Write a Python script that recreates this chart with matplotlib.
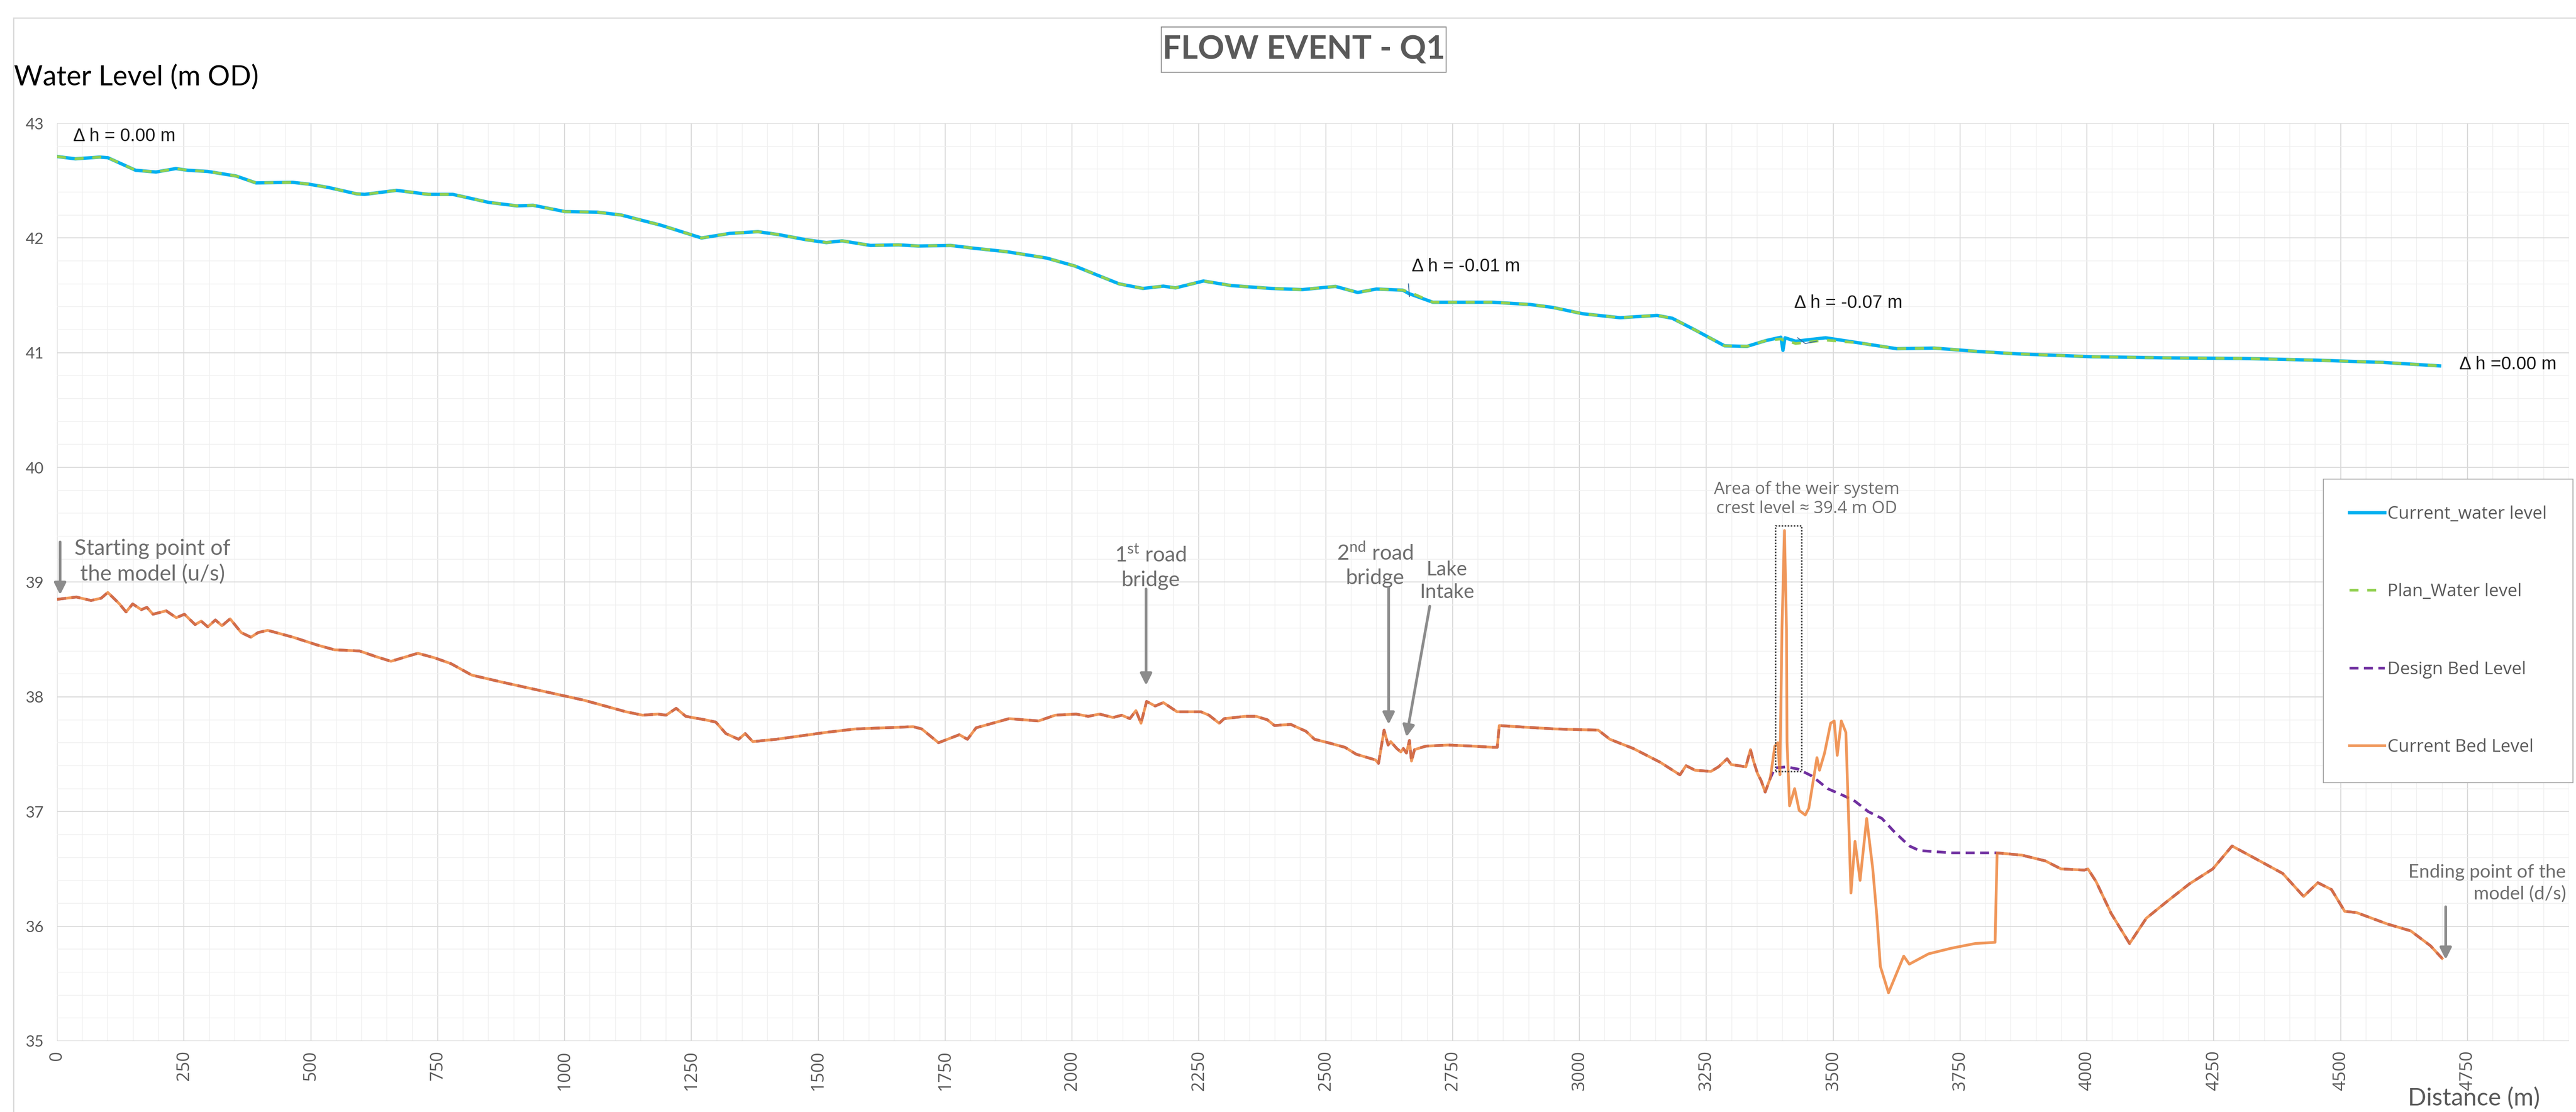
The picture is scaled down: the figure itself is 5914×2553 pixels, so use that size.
import matplotlib.pyplot as plt
from matplotlib.patches import Rectangle
from matplotlib.ticker import MultipleLocator

water_x = [0, 36, 84, 100, 155, 195, 234, 258, 297, 353,
           392, 464, 495, 535, 590, 606, 669, 732, 780, 851,
           906, 938, 1001, 1065, 1112, 1191, 1270, 1326, 1381, 1421,
           1476, 1516, 1547, 1603, 1658, 1697, 1761, 1808, 1872, 1950,
           2006, 2045, 2093, 2140, 2180, 2204, 2259, 2314, 2393, 2454,
           2519, 2563, 2600, 2652, 2664, 2711, 2755, 2829, 2903, 2947,
           3006, 3080, 3153, 3183, 3227, 3286, 3330, 3367, 3397, 3401,
           3405, 3426, 3485, 3552, 3625, 3699, 3788, 3862, 4009, 4156,
           4304, 4451, 4584, 4695]
current_wl = [42.71, 42.69, 42.705, 42.70, 42.59, 42.575, 42.605, 42.59, 42.58, 42.54,
              42.48, 42.485, 42.47, 42.44, 42.385, 42.38, 42.415, 42.38, 42.38, 42.31,
              42.28, 42.285, 42.23, 42.225, 42.20, 42.11, 42.00, 42.04, 42.055, 42.03,
              41.985, 41.96, 41.975, 41.935, 41.94, 41.93, 41.935, 41.91, 41.88, 41.825,
              41.755, 41.685, 41.60, 41.56, 41.58, 41.565, 41.625, 41.585, 41.56, 41.55,
              41.578, 41.525, 41.555, 41.545, 41.515, 41.44, 41.44, 41.44, 41.42, 41.395,
              41.34, 41.305, 41.325, 41.30, 41.20, 41.06, 41.055, 41.105, 41.135, 41.02,
              41.13, 41.10, 41.13, 41.085, 41.035, 41.04, 41.01, 40.99, 40.965, 40.955,
              40.95, 40.935, 40.915, 40.885]
plan_wl = [42.71, 42.69, 42.705, 42.70, 42.59, 42.575, 42.605, 42.59, 42.58, 42.54,
           42.48, 42.485, 42.47, 42.44, 42.385, 42.38, 42.415, 42.38, 42.38, 42.31,
           42.28, 42.285, 42.23, 42.225, 42.20, 42.11, 42.00, 42.04, 42.055, 42.03,
           41.985, 41.96, 41.975, 41.935, 41.94, 41.93, 41.935, 41.91, 41.88, 41.825,
           41.755, 41.685, 41.60, 41.56, 41.58, 41.565, 41.625, 41.585, 41.56, 41.55,
           41.578, 41.525, 41.555, 41.545, 41.53, 41.44, 41.44, 41.44, 41.42, 41.395,
           41.34, 41.305, 41.325, 41.30, 41.20, 41.06, 41.055, 41.105, 41.12, 41.11,
           41.11, 41.08, 41.11, 41.085, 41.035, 41.04, 41.01, 40.99, 40.965, 40.955,
           40.95, 40.935, 40.915, 40.885]

bed_x = [0, 38, 67, 87, 100, 123, 136, 149, 166, 177,
         189, 215, 235, 251, 272, 284, 297, 312, 325, 341,
         363, 382, 396, 415, 465, 514, 547, 596, 629, 658,
         711, 744, 776, 817, 875, 957, 1039, 1121, 1154, 1184,
         1200, 1220, 1239, 1277, 1298, 1318, 1343, 1356, 1371, 1417,
         1482, 1515, 1573, 1687, 1704, 1737, 1778, 1794, 1811, 1876,
         1934, 1967, 2008, 2032, 2054, 2081, 2098, 2114, 2126, 2136,
         2147, 2164, 2180, 2207, 2254, 2270, 2290, 2300, 2341, 2363,
         2385, 2399, 2431, 2461, 2478, 2505, 2538, 2560, 2598, 2604,
         2615, 2623, 2628, 2640, 2648, 2653, 2659, 2665, 2669, 2675,
         2697, 2741, 2792, 2830, 2838, 2842, 2876, 2953, 3037, 3060,
         3106, 3159, 3198, 3210, 3228, 3259, 3274, 3291, 3299, 3328,
         3337, 3343, 3351, 3358, 3366, 3376, 3385, 3391, 3395, 3399,
         3404, 3408, 3409, 3414, 3424, 3433, 3445, 3452, 3460, 3468,
         3473, 3483, 3495, 3502, 3508, 3516, 3525, 3529, 3535, 3543,
         3553, 3566, 3578, 3586, 3593, 3609, 3624, 3639, 3650, 3688,
         3734, 3780, 3819, 3823, 3872, 3918, 3949, 3995, 4002, 4018,
         4048, 4084, 4117, 4156, 4202, 4248, 4286, 4332, 4386, 4427,
         4455, 4482, 4508, 4531, 4592, 4638, 4677, 4700]
bed_level = [38.85, 38.87, 38.84, 38.86, 38.91, 38.81, 38.74, 38.81, 38.76, 38.78,
             38.72, 38.75, 38.69, 38.72, 38.63, 38.66, 38.61, 38.67, 38.62, 38.68,
             38.56, 38.52, 38.56, 38.58, 38.52, 38.45, 38.41, 38.40, 38.35, 38.31,
             38.38, 38.34, 38.29, 38.19, 38.13, 38.05, 37.97, 37.87, 37.84, 37.85,
             37.84, 37.90, 37.83, 37.80, 37.78, 37.68, 37.63, 37.68, 37.61, 37.63,
             37.67, 37.69, 37.72, 37.74, 37.72, 37.60, 37.67, 37.63, 37.73, 37.81,
             37.79, 37.84, 37.85, 37.83, 37.85, 37.82, 37.84, 37.81, 37.88, 37.77,
             37.96, 37.92, 37.95, 37.87, 37.87, 37.84, 37.77, 37.81, 37.83, 37.83,
             37.80, 37.75, 37.76, 37.70, 37.63, 37.60, 37.56, 37.50, 37.45, 37.42,
             37.71, 37.58, 37.61, 37.55, 37.52, 37.55, 37.51, 37.62, 37.44, 37.54,
             37.57, 37.58, 37.57, 37.56, 37.56, 37.75, 37.74, 37.72, 37.71, 37.63,
             37.55, 37.43, 37.32, 37.40, 37.36, 37.35, 37.39, 37.46, 37.41, 37.39,
             37.54, 37.44, 37.33, 37.27, 37.17, 37.29, 37.57, 37.60, 37.32, 38.58,
             39.45, 38.59, 37.61, 37.05, 37.20, 37.01, 36.97, 37.03, 37.25, 37.47,
             37.36, 37.51, 37.77, 37.79, 37.49, 37.79, 37.69, 37.14, 36.29, 36.74,
             36.40, 36.94, 36.50, 36.09, 35.65, 35.42, 35.58, 35.74, 35.67, 35.76,
             35.81, 35.85, 35.86, 36.64, 36.62, 36.57, 36.50, 36.49, 36.50, 36.39,
             36.11, 35.85, 36.07, 36.21, 36.37, 36.50, 36.70, 36.59, 36.46, 36.26,
             36.38, 36.32, 36.13, 36.12, 36.02, 35.96, 35.83, 35.72]

# design bed differs from the existing bed only through the weir reach
weir_x = [3385, 3408, 3431, 3458, 3489, 3520, 3543, 3569, 3596, 3619, 3650, 3670, 3734, 3823]
weir_design = [37.38, 37.39, 37.37, 37.31, 37.20, 37.14, 37.09, 37.00, 36.94, 36.83,
               36.70, 36.66, 36.64, 36.64]

xtick_vals = list(range(0, 4751, 250))
ytick_vals = list(range(35, 44))

design_x = [x for x in bed_x if x < weir_x[0]] + weir_x + [x for x in bed_x if x > weir_x[-1]]
design_y = ([y for x, y in zip(bed_x, bed_level) if x < weir_x[0]] + weir_design
            + [y for x, y in zip(bed_x, bed_level) if x > weir_x[-1]])

plt.rcParams['mathtext.fontset'] = 'custom'
plt.rcParams['mathtext.rm'] = 'Lato'

GREY = '#595959'
NOTE = '#6e6e6e'
ARROW = '#8c8c8c'
W, H = 5914, 2553

fig = plt.figure(figsize=(W / 100, H / 100), dpi=100)
ax = fig.add_axes([0.02215, 0.06385, 0.97514, 0.8253])

# chart-area border
fig.patches.append(Rectangle((31 / W, -0.1), 1.2, 1.1 - 41 / H, transform=fig.transFigure,
                             fill=False, ec='#d9d9d9', lw=2))

ax.plot(water_x, current_wl, color='#00B0F0', lw=5.5, label='Current_water level', zorder=3)
ax.plot(water_x, plan_wl, color='#92D050', lw=4.5, dashes=(3.3, 3.2), label='Plan_Water level', zorder=4)
ax.plot(design_x, design_y, color='#7030A0', lw=4.5, dashes=(3.3, 2.0), label='Design Bed Level', zorder=3)
ax.plot(bed_x, bed_level, color='#ED7D31', lw=4.5, alpha=0.8, label='Current Bed Level', zorder=4)

ax.set_xlim(0, 4950)
ax.set_ylim(35, 43)
ax.set_xticks(xtick_vals)
ax.set_yticks(ytick_vals)
ax.xaxis.set_minor_locator(MultipleLocator(50))
ax.yaxis.set_minor_locator(MultipleLocator(0.2))
ax.grid(which='major', color='#d9d9d9', lw=1.6)
ax.grid(which='minor', color='#f0f0f0', lw=1.2)
ax.set_axisbelow(True)
for s in ax.spines.values():
    s.set_visible(False)
ax.tick_params(which='both', length=0)
ax.tick_params(axis='x', pad=16, labelrotation=90, labelsize=29, labelcolor=GREY)
ax.tick_params(axis='y', pad=22, labelsize=26, labelcolor=GREY)
for lab in ax.get_xticklabels():
    lab.set_fontfamily('Open Sans')
for lab in ax.get_yticklabels():
    lab.set_fontfamily('Lato')

# title in its own box
fig.patches.append(Rectangle((2666 / W, 1 - 166 / H), 654 / W, 104 / H, transform=fig.transFigure,
                             fc='white', ec='#8c8c8c', lw=1.5))
fig.text(2993 / W, 1 - 114 / H, 'FLOW EVENT - Q1', ha='center', va='center',
         fontsize=54, fontweight='bold', family='Lato', color=GREY)
fig.text(32 / W, 1 - 178 / H, 'Water Level (m OD)', ha='left', va='center',
         fontsize=46, family='Lato', color='black')
fig.text(5680 / W, 1 - 2522 / H, 'Distance (m)', ha='center', va='center',
         fontsize=40, family='Lato', color=GREY)

# head-difference labels
dh = dict(fontsize=30, family='Liberation Sans', color='#1a1a1a', va='center', ha='left')
ax.text(32, 42.886, '\u0394 h = 0.00 m', **dh)
ax.text(2669, 41.75, '\u0394 h = -0.01 m', **dh)
ax.text(3423, 41.43, '\u0394 h = -0.07 m', **dh)
ax.text(4734, 40.897, '\u0394 h =0.00 m', **dh)
ax.plot([2663, 2665], [41.60, 41.49], color='#3b6c9e', lw=1.5, zorder=5)
ax.plot([3430, 3445, 3467], [41.13, 41.08, 41.10], color='#3b6c9e', lw=1.5, zorder=5)

# location notes with arrows
note = dict(family='Lato', color=NOTE, ha='center', va='center', linespacing=1.3)
arrow = dict(arrowstyle='-|>', color=ARROW, lw=4.5, mutation_scale=40, shrinkA=0, shrinkB=0)
ax.text(188, 39.18, 'Starting point of\nthe model (u/s)', fontsize=36, **note)
ax.annotate('', xy=(6, 38.89), xytext=(6, 39.35), arrowprops=arrow)
ax.text(2155, 39.13, '1$^{\\mathrm{st}}$ road\nbridge', fontsize=35, **note)
ax.annotate('', xy=(2146, 38.10), xytext=(2146, 38.94), arrowprops=arrow)
ax.text(2597, 39.15, '2$^{\\mathrm{nd}}$ road\nbridge', fontsize=35, **note)
ax.annotate('', xy=(2624, 37.76), xytext=(2624, 38.95), arrowprops=arrow)
ax.text(2739, 39.01, 'Lake\nIntake', fontsize=33, **note)
ax.annotate('', xy=(2659, 37.65), xytext=(2705, 38.79), arrowprops=arrow)
ax.text(4944, 36.375, 'Ending point of the\nmodel (d/s)', fontsize=31, family='Lato', color=NOTE,
        ha='right', va='center', multialignment='right', linespacing=1.3)
ax.annotate('', xy=(4707, 35.71), xytext=(4707, 36.17), arrowprops=arrow)

# weir reach
ax.text(3448, 39.725, 'Area of the weir system\ncrest level \u2248 39.4 m OD', fontsize=28,
        family='Open Sans', color=NOTE, ha='center', va='center', linespacing=1.2)
ax.add_patch(Rectangle((3386, 37.35), 52, 2.14, fill=False, ec='#404040', lw=2.5,
                       ls=(0, (1, 1)), zorder=5))

ax.legend(loc='upper right', bbox_to_anchor=(1.0016, 0.6122),
          prop={'family': 'Open Sans', 'size': 29}, labelcolor=GREY, frameon=True,
          fancybox=False, framealpha=1, edgecolor='#a6a6a6', borderpad=1.5,
          labelspacing=3.42, handlelength=2.0, handletextpad=0.15, borderaxespad=0)
ax.get_legend().get_frame().set_linewidth(1.5)

fig.savefig('out.png', dpi=100)
